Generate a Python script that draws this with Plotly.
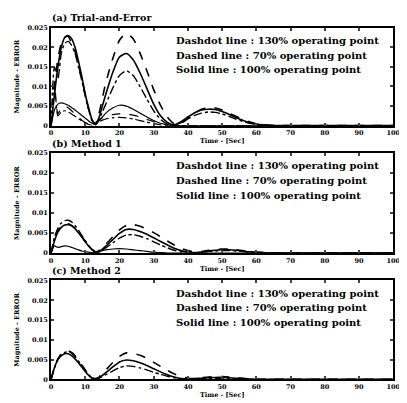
import plotly.graph_objects as go

TIME = [0, 1, 2, 3, 4, 5, 6, 7, 8, 9, 10, 11, 12, 13, 14, 15, 16, 18, 20, 22, 24, 26, 28, 30,
        32, 34, 36, 38, 40, 42, 44, 46, 48, 50, 52, 54, 56, 58, 60, 62, 64, 66, 70, 80, 90, 100]

# Panel (a) Trial-and-Error
A_SOLID = [0, 0.008, 0.015, 0.020, 0.0225, 0.023, 0.0222, 0.020, 0.0165, 0.0125, 0.008, 0.0045, 0.0015, 0.0003,
           0.002, 0.005, 0.008, 0.0135, 0.0175, 0.0184, 0.0168, 0.0135, 0.0095, 0.0055, 0.0025, 0.0008, 0.0002,
           0.001, 0.0022, 0.0033, 0.0040, 0.0042, 0.0041, 0.0036, 0.0029, 0.0021, 0.0014, 0.0008, 0.0004, 0.0002,
           0.0001, 0, 0, 0, 0, 0]
A_DASH = [0, 0.010, 0.017, 0.021, 0.0225, 0.0228, 0.021, 0.019, 0.0155, 0.012, 0.0078, 0.0042, 0.0014, 0.0004,
          0.003, 0.007, 0.011, 0.017, 0.0218, 0.0235, 0.0222, 0.0185, 0.014, 0.0092, 0.0052, 0.0022, 0.0005,
          0.0006, 0.0018, 0.0032, 0.0042, 0.0046, 0.0045, 0.0040, 0.0032, 0.0024, 0.0016, 0.0010, 0.0005, 0.0002,
          0.0001, 0, 0, 0, 0, 0]
A_DASHDOT = [0, 0.015, 0.012, 0.0185, 0.021, 0.0215, 0.0205, 0.0185, 0.015, 0.0115, 0.0075, 0.0040, 0.0012, 0.0003,
             0.0015, 0.0035, 0.0055, 0.0095, 0.0128, 0.0140, 0.0128, 0.0100, 0.0068, 0.0038, 0.0016, 0.0004, 0.0001,
             0.0008, 0.0017, 0.0026, 0.0032, 0.0035, 0.0034, 0.0030, 0.0024, 0.0017, 0.0011, 0.0006, 0.0003, 0.0001,
             0, 0, 0, 0, 0, 0]
A_LOW1 = [0, 0.004, 0.0055, 0.0058, 0.0056, 0.0052, 0.0046, 0.0040, 0.0033, 0.0026, 0.0019, 0.0012, 0.0006, 0.0002,
          0.0012, 0.0022, 0.0032, 0.0045, 0.0052, 0.0050, 0.0042, 0.0032, 0.0022, 0.0013, 0.0006, 0.0002, 0,
          0, 0, 0, 0, 0, 0, 0, 0, 0, 0, 0, 0, 0, 0, 0, 0, 0, 0, 0]
A_LOW2 = [0, 0.009, 0.003, 0.0045, 0.0050, 0.0046, 0.0038, 0.0030, 0.0022, 0.0014, 0.0008, 0.0004, 0.0002, 0.0008,
          0.0015, 0.0020, 0.0024, 0.0028, 0.0030, 0.0030, 0.0027, 0.0022, 0.0016, 0.0010, 0.0005, 0.0002, 0,
          0, 0, 0, 0, 0, 0, 0, 0, 0, 0, 0, 0, 0, 0, 0, 0, 0, 0, 0]
A_LOW3 = [0, 0.011, 0.0025, 0.0035, 0.0038, 0.0035, 0.0030, 0.0024, 0.0018, 0.0012, 0.0007, 0.0003, 0.0001, 0.0004,
          0.0010, 0.0014, 0.0017, 0.0020, 0.0021, 0.0020, 0.0017, 0.0013, 0.0009, 0.0005, 0.0002, 0, 0,
          0, 0, 0, 0, 0, 0, 0, 0, 0, 0, 0, 0, 0, 0, 0, 0, 0, 0, 0]

# Panel (b) Method 1
B_SOLID = [0, 0.003, 0.0052, 0.0064, 0.0070, 0.0071, 0.0068, 0.0061, 0.0051, 0.0040, 0.0028, 0.0017, 0.0008, 0.0002,
           0.0004, 0.0010, 0.0017, 0.0033, 0.0049, 0.0059, 0.0059, 0.0054, 0.0047, 0.0038, 0.0029, 0.0020, 0.0012,
           0.0006, 0.0002, 0.0001, 0.0002, 0.0005, 0.0007, 0.0008, 0.0008, 0.0007, 0.0005, 0.0003, 0.0002, 0.0001,
           0, 0, 0, 0, 0, 0]
B_DASH = [0, 0.0035, 0.0056, 0.0067, 0.0072, 0.0073, 0.0069, 0.0062, 0.0052, 0.0041, 0.0029, 0.0018, 0.0009, 0.0003,
          0.0006, 0.0014, 0.0022, 0.0040, 0.0058, 0.0069, 0.0071, 0.0067, 0.0060, 0.0051, 0.0041, 0.0030, 0.0020,
          0.0012, 0.0006, 0.0003, 0.0004, 0.0007, 0.0009, 0.0010, 0.0010, 0.0008, 0.0006, 0.0004, 0.0002, 0.0001,
          0, 0, 0, 0, 0, 0]
B_DASHDOT = [0, 0.0040, 0.0062, 0.0075, 0.0081, 0.0082, 0.0078, 0.0069, 0.0057, 0.0044, 0.0031, 0.0019, 0.0009, 0.0003,
             0.0003, 0.0008, 0.0013, 0.0025, 0.0037, 0.0045, 0.0046, 0.0042, 0.0036, 0.0028, 0.0020, 0.0013, 0.0007,
             0.0003, 0.0001, 0.0001, 0.0002, 0.0004, 0.0005, 0.0006, 0.0006, 0.0005, 0.0004, 0.0002, 0.0001, 0,
             0, 0, 0, 0, 0, 0]
B_LOW1 = [0, 0.0018, 0.0014, 0.0016, 0.0018, 0.0017, 0.0014, 0.0011, 0.0008, 0.0005, 0.0003, 0.0002, 0.0001, 0.0001,
          0.0003, 0.0006, 0.0008, 0.0010, 0.0011, 0.0010, 0.0008, 0.0006, 0.0004, 0.0002, 0.0001, 0, 0,
          0, 0, 0, 0, 0, 0, 0, 0, 0, 0, 0, 0, 0, 0, 0, 0, 0, 0, 0]

# Panel (c) Method 2
C_SOLID = [0, 0.0030, 0.0050, 0.0060, 0.0065, 0.0065, 0.0060, 0.0052, 0.0042, 0.0031, 0.0020, 0.0010, 0.0003, 0.0001,
           0.0004, 0.0010, 0.0017, 0.0031, 0.0044, 0.0049, 0.0047, 0.0042, 0.0035, 0.0027, 0.0019, 0.0012, 0.0006,
           0.0002, 0.0001, 0.0002, 0.0003, 0.0004, 0.0005, 0.0005, 0.0004, 0.0003, 0.0002, 0.0001, 0, 0,
           0, 0, 0, 0, 0, 0]
C_DASH = [0, 0.0030, 0.0052, 0.0064, 0.0070, 0.0072, 0.0068, 0.0060, 0.0048, 0.0036, 0.0024, 0.0013, 0.0005, 0.0002,
          0.0006, 0.0015, 0.0024, 0.0042, 0.0058, 0.0067, 0.0066, 0.0061, 0.0053, 0.0043, 0.0033, 0.0023, 0.0014,
          0.0007, 0.0003, 0.0002, 0.0004, 0.0006, 0.0007, 0.0007, 0.0006, 0.0004, 0.0003, 0.0001, 0, 0,
          0, 0, 0, 0, 0, 0]
C_DASHDOT = [0, 0.0028, 0.0050, 0.0062, 0.0068, 0.0070, 0.0066, 0.0058, 0.0047, 0.0035, 0.0023, 0.0012, 0.0004, 0.0001,
             0.0003, 0.0007, 0.0012, 0.0021, 0.0030, 0.0034, 0.0033, 0.0029, 0.0024, 0.0018, 0.0013, 0.0008, 0.0004,
             0.0001, 0.0001, 0.0001, 0.0002, 0.0003, 0.0003, 0.0003, 0.0002, 0.0002, 0.0001, 0, 0, 0,
             0, 0, 0, 0, 0, 0]

Y_TICKS = [0, 0.005, 0.01, 0.015, 0.02, 0.025]
Y_TICKTEXT = ["0", "0.005", "0.01", "0.015", "0.02", "0.025"]
X_TICKS = [0, 10, 20, 30, 40, 50, 60, 70, 80, 90, 100]
TITLES = ["(a) Trial-and-Error", "(b) Method 1", "(c) Method 2"]
NOTES = ["Dashdot line : 130% operating point",
         "Dashed line : 70% operating point",
         "Solid line : 100% operating point"]
X_TITLE = "Time - [Sec]"
Y_TITLE = "Magnitude - ERROR"

OFF = 8  # default page body margin
W, H = 407 - OFF, 403 - OFF
X0, X1 = 50 - OFF, 400 - OFF
PANELS = [(24 - OFF, 124 - OFF), (152 - OFF, 254 - OFF), (282 - OFF, 383 - OFF)]

FONT = "DejaVu Serif"
fig = go.Figure()

panel_series = [
    [(A_SOLID, "solid", 1.6), (A_DASH, "dash", 1.6), (A_DASHDOT, "dashdot", 1.4),
     (A_LOW1, "solid", 1.2), (A_LOW2, "dash", 1.2), (A_LOW3, "dashdot", 1.2)],
    [(B_SOLID, "solid", 1.6), (B_DASH, "dash", 1.6), (B_DASHDOT, "dashdot", 1.4),
     (B_LOW1, "solid", 1.2)],
    [(C_SOLID, "solid", 1.6), (C_DASH, "dash", 1.6), (C_DASHDOT, "dashdot", 1.4)],
]

for i, series in enumerate(panel_series):
    xa = "x" if i == 0 else f"x{i+1}"
    ya = "y" if i == 0 else f"y{i+1}"
    for vals, dash, w in series:
        fig.add_trace(go.Scatter(x=TIME, y=vals, mode="lines", xaxis=xa, yaxis=ya,
                                 line=dict(color="black", width=w, dash=dash, shape="spline", smoothing=0.6),
                                 showlegend=False, hoverinfo="skip"))

layout = dict(width=W, height=H, margin=dict(l=0, r=0, t=0, b=0),
              paper_bgcolor="white", plot_bgcolor="white", showlegend=False,
              font=dict(family=FONT, color="black"))
annotations = []
for i, (top, bot) in enumerate(PANELS):
    sfx = "" if i == 0 else str(i + 1)
    ydom = [1 - bot / H, 1 - top / H]
    layout["xaxis" + sfx] = dict(domain=[X0 / W, X1 / W], range=[0, 100], tickvals=X_TICKS,
                                 anchor="y" + sfx, showline=True, mirror="ticks", linewidth=2,
                                 linecolor="black", ticks="inside", ticklen=3, tickwidth=1.5,
                                 showgrid=False, zeroline=False, ticklabeloverflow="allow",
                                 tickfont=dict(family=FONT, size=6.5, weight="bold"))
    layout["yaxis" + sfx] = dict(domain=ydom, range=[0, 0.025], tickvals=Y_TICKS, ticktext=Y_TICKTEXT,
                                 anchor="x" + sfx, showline=True, mirror="ticks", linewidth=2,
                                 linecolor="black", ticks="inside", ticklen=3, tickwidth=1.5,
                                 showgrid=False, zeroline=False, ticklabeloverflow="allow",
                                 tickfont=dict(family=FONT, size=6.5, weight="bold"))
    annotations.append(dict(text=TITLES[i], x=(X0 - 1) / W, y=1 - (top - 10) / H, xref="paper", yref="paper",
                            xanchor="left", yanchor="middle", showarrow=False,
                            font=dict(family=FONT, size=9.5, weight="bold")))
    annotations.append(dict(text=X_TITLE, x=(X0 + X1) / 2 / W, y=1 - (bot + 16) / H, xref="paper", yref="paper",
                            xanchor="center", yanchor="middle", showarrow=False,
                            font=dict(family=FONT, size=6.5, weight="bold")))
    annotations.append(dict(text=Y_TITLE, x=(15 - OFF) / W, y=1 - (top + bot) / 2 / H, xref="paper", yref="paper",
                            xanchor="center", yanchor="middle", showarrow=False, textangle=-90,
                            font=dict(family=FONT, size=6.5, weight="bold")))
    for j, note in enumerate(NOTES):
        annotations.append(dict(text=note, x=(176 - OFF) / W, y=1 - (top + 13 + 15 * j) / H, xref="paper",
                                yref="paper", xanchor="left", yanchor="middle", showarrow=False,
                                font=dict(family=FONT, size=10, weight="bold")))
layout["annotations"] = annotations
fig.update_layout(**layout)
fig.write_html("out.html")
